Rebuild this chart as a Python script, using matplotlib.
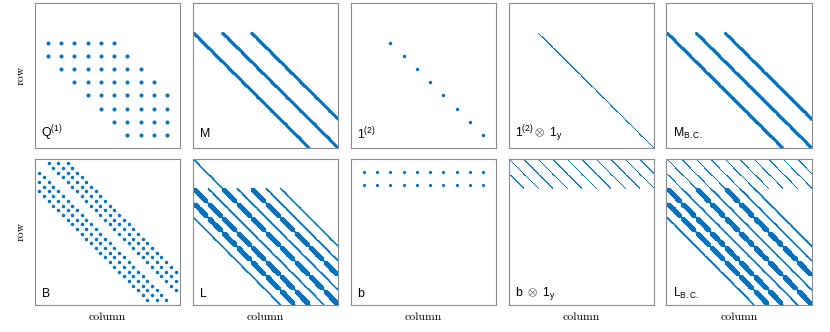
import numpy as np
import matplotlib
matplotlib.use("Agg")
import matplotlib.pyplot as plt

plt.rcParams['font.family'] = ['Liberation Sans', 'DejaVu Sans']
plt.rcParams['mathtext.fontset'] = 'custom'
plt.rcParams['mathtext.rm'] = 'Liberation Sans'
plt.rcParams['mathtext.it'] = 'Liberation Sans:italic'
plt.rcParams['mathtext.bf'] = 'Liberation Sans:bold'

BLUE = '#0072BD'
FRAME = '#8c8c8c'

# sizes
NX = 10          # points in x of the small operators
NY = 30          # points per x-block in the big (kron) operators
NB = 30          # size of B

# Q^(1): interior rows and their first / last non-zero column
q1_rows = [3, 4, 5, 6, 7, 8, 9, 10]
q1_first = [1, 1, 2, 3, 4, 5, 6, 7]
q1_last = [6, 7, 8, 9, 10, 10, 10, 10]

# 1^(2): identity without the two boundary rows
one2_rows = [3, 4, 5, 6, 7, 8, 9, 10]

# b: the two boundary rows, all columns
b_rows = [1, 2]

# block diagonals (x direction) used in the big operators
m_offsets = [-2, 0, 2]
l_thin_offsets = [-4, -3, -2, -1, 0, 1, 2, 3, 4]
l_thick_offsets = [-3, -2, 0, 2]
l_band = 6            # half width of the y band inside a thick block

# B: diagonals (checkerboard) of the 30x30 matrix
b_offsets = [-6, -4, -2, 2, 4, 6]

labels_top = [r'$\mathrm{Q}^{(1)}$', r'$\mathrm{M}$', r'$1^{(2)}$',
              r'$1^{(2)}\otimes\ 1_\mathrm{y}$', r'$\mathrm{M}_\mathrm{B.C.}$']
labels_bot = [r'$\mathrm{B}$', r'$\mathrm{L}$', r'$\mathrm{b}$',
              r'$\mathrm{b}\ \otimes\ 1_\mathrm{y}$', r'$\mathrm{L}_\mathrm{B.C.}$']


def blocks(rows, offsets):
    out = []
    for i in rows:
        for o in offsets:
            j = i + o
            if 1 <= j <= NX:
                out.append((i, j))
    return out


def kron_eye(pairs):
    k = np.arange(NY)
    r, c = [], []
    for i, j in pairs:
        r.append((i - 1) * NY + k + 1)
        c.append((j - 1) * NY + k + 1)
    return np.concatenate(r), np.concatenate(c)


def kron_band(pairs, w):
    r, c = [], []
    for i, j in pairs:
        for k in range(NY):
            for d in range(-w, w + 1):
                if 0 <= k + d < NY:
                    r.append((i - 1) * NY + k + 1)
                    c.append((j - 1) * NY + k + d + 1)
    return np.array(r), np.array(c)


# small matrices
q1_r, q1_c = [], []
for i, a, b in zip(q1_rows, q1_first, q1_last):
    for j in range(a, b + 1):
        q1_r.append(i)
        q1_c.append(j)

b_r = [i for i in b_rows for j in range(1, NX + 1)]
b_c = [j for i in b_rows for j in range(1, NX + 1)]

B_r, B_c = [], []
for i in range(1, NB + 1):
    for o in b_offsets:
        if 1 <= i + o <= NB:
            B_r.append(i)
            B_c.append(i + o)

# big matrices
M_pts = kron_eye(blocks(one2_rows, m_offsets))
one2y_pts = kron_eye(blocks(one2_rows, [0]))
bc_pts = kron_eye([(i, j) for i in b_rows for j in range(1, NX + 1)])
L_top = kron_eye(blocks(b_rows, [0]))
L_thin = kron_eye(blocks(one2_rows, l_thin_offsets))
L_thick = kron_band(blocks(one2_rows, l_thick_offsets), l_band)

N = NX * NY

# panel: list of (points, markersize), size of matrix
panels_top = [
    ([((q1_r, q1_c), 2.9)], NX),
    ([(M_pts, 2.0)], N),
    ([((one2_rows, one2_rows), 2.5)], NX),
    ([(one2y_pts, 0.8)], N),
    ([(M_pts, 2.0)], N),
]
panels_bot = [
    ([((B_r, B_c), 2.5)], NB),
    ([(L_top, 1.1), (L_thin, 1.1), (L_thick, 0.8)], N),
    ([((b_r, b_c), 2.3)], NX),
    ([(bc_pts, 0.8)], N),
    ([(bc_pts, 0.8), (L_thin, 1.1), (L_thick, 0.8)], N),
]

fig = plt.figure(figsize=(8.3, 3.32), dpi=100)

W, H = 830.0, 332.0
lefts = [34.7, 192.7, 350.7, 508.5, 666.3]
aw = 145.5
rows_px = [(3.3, 148.0), (158.5, 304.5)]

for r, (panels, labels) in enumerate([(panels_top, labels_top), (panels_bot, labels_bot)]):
    top, bot = rows_px[r]
    for c, ((series, n), lab) in enumerate(zip(panels, labels)):
        ax = fig.add_axes([lefts[c] / W, (H - bot) / H, aw / W, (bot - top) / H])
        for (rr, cc), ms in series:
            ax.plot(cc, rr, linestyle='none', marker='o', markersize=ms,
                    color=BLUE, markeredgewidth=0, snap=False)
        ax.set_xlim(0, n + 1)
        ax.set_ylim(n + 1, 0)
        ax.set_xticks([])
        ax.set_yticks([])
        for s in ax.spines.values():
            s.set_color(FRAME)
            s.set_linewidth(0.8)
        ax.text(0.045, 0.10 if r == 0 else 0.075, lab, transform=ax.transAxes,
                ha='left', va='center', fontsize=8.8, color='black')
        if r == 1:
            ax.text(0.5, -0.085, 'column', transform=ax.transAxes, ha='center',
                    va='center', fontsize=8.5, family='cmr10')
    fig.text(21 / W, (H - (top + bot) / 2) / H, 'row', rotation=90,
             ha='center', va='center', fontsize=8.5, family='cmr10')

fig.savefig('out.png', dpi=100)
